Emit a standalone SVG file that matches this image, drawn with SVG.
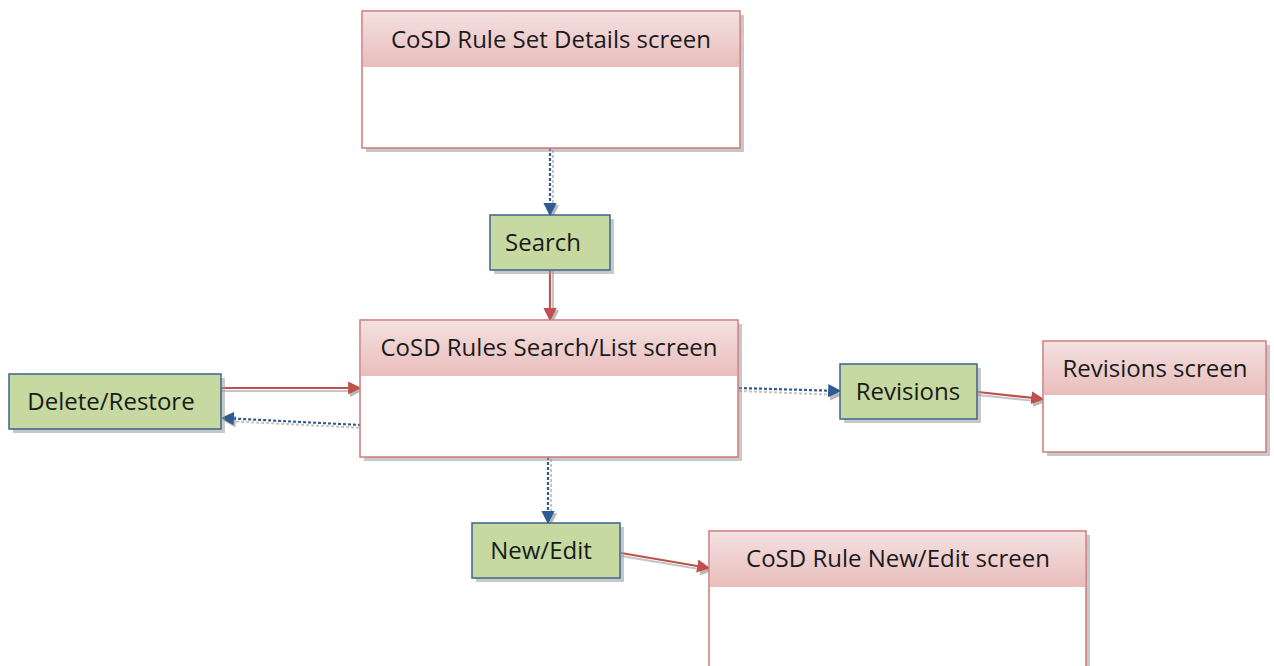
<svg xmlns="http://www.w3.org/2000/svg" width="1274" height="666" viewBox="0 0 1274 666">
<defs>
<linearGradient id="hdr" x1="0" y1="0" x2="0" y2="1">
<stop offset="0" stop-color="#f4e1e0"/>
<stop offset="1" stop-color="#e8bdbc"/>
</linearGradient>
<marker id="ab" viewBox="0 0 10 10" refX="9" refY="5" markerWidth="6" markerHeight="6" orient="auto" markerUnits="strokeWidth">
<path d="M0,0 L10,5 L0,10 z" fill="#2e5b93"/>
</marker>
<marker id="ar" viewBox="0 0 10 10" refX="9" refY="5" markerWidth="6" markerHeight="6" orient="auto" markerUnits="strokeWidth">
<path d="M0,0 L10,5 L0,10 z" fill="#c0504d"/>
</marker>
<marker id="ag" viewBox="0 0 10 10" refX="9" refY="5" markerWidth="6" markerHeight="6" orient="auto" markerUnits="strokeWidth">
<path d="M0,0 L10,5 L0,10 z" fill="#b8b8b8"/>
</marker>
</defs>
<style>
.shadow{fill:#9a9a9a;opacity:0.55}
.scr{fill:#ffffff;stroke:#d07a78;stroke-width:1.5}
.hd{fill:url(#hdr)}
.act{fill:#c5d9a0;stroke:#3b6391;stroke-width:1.5}
text{font-family:"Open Sans","Liberation Sans",sans-serif;fill:#1a1a1a;text-anchor:middle;font-size:24px}
.blue{stroke:#2e5b93;stroke-width:2.2;stroke-dasharray:3 2;fill:none;marker-end:url(#ab)}
.red{stroke:#c0504d;stroke-width:2.2;fill:none;marker-end:url(#ar)}
.csh{stroke:#c4c4c4;stroke-width:2;fill:none;marker-end:url(#ag)}
.cshd{stroke:#c4c4c4;stroke-width:2;stroke-dasharray:3 2;fill:none;marker-end:url(#ag)}
</style>
<rect width="1274" height="666" fill="#ffffff"/>

<g id="connectors">
<line class="cshd" x1="553" y1="150" x2="553" y2="216"/>
<line class="blue" x1="550" y1="148" x2="550" y2="215"/>
<line class="csh" x1="553" y1="271" x2="553" y2="321"/>
<line class="red" x1="550" y1="270" x2="550" y2="320"/>
<line class="csh" x1="221" y1="391" x2="361" y2="391"/>
<line class="red" x1="221" y1="388" x2="360" y2="388"/>
<line class="cshd" x1="364" y1="428" x2="225" y2="421"/>
<line class="blue" x1="361" y1="425" x2="222" y2="418"/>
<line class="cshd" x1="739" y1="391" x2="841" y2="395"/>
<line class="blue" x1="739" y1="388" x2="840" y2="391"/>
<line class="csh" x1="978" y1="395" x2="1044" y2="402"/>
<line class="red" x1="978" y1="392" x2="1043" y2="399"/>
<line class="cshd" x1="551" y1="459" x2="551" y2="524"/>
<line class="blue" x1="548" y1="457" x2="548" y2="523"/>
<line class="csh" x1="621" y1="556" x2="711" y2="571"/>
<line class="red" x1="621" y1="553" x2="709" y2="568"/>
</g>

<g id="rule-set-details">
<rect class="shadow" x="366" y="15" width="378" height="137"/>
<rect class="scr" x="362" y="11" width="378" height="137"/>
<rect class="hd" x="363" y="12" width="376" height="55"/>
<text x="551" y="48">CoSD Rule Set Details screen</text>
</g>

<g id="search">
<rect class="shadow" x="494" y="219" width="120" height="55"/>
<rect class="act" x="490" y="215" width="120" height="55"/>
<text x="543" y="251">Search</text>
</g>

<g id="rules-search-list">
<rect class="shadow" x="364" y="324" width="378" height="137"/>
<rect class="scr" x="360" y="320" width="378" height="137"/>
<rect class="hd" x="361" y="321" width="376" height="55"/>
<text x="549" y="356">CoSD Rules Search/List screen</text>
</g>

<g id="delete-restore">
<rect class="shadow" x="13" y="378" width="212" height="55"/>
<rect class="act" x="9" y="374" width="212" height="55"/>
<text x="111" y="410">Delete/Restore</text>
</g>

<g id="revisions">
<rect class="shadow" x="844" y="368" width="137" height="55"/>
<rect class="act" x="840" y="364" width="137" height="55"/>
<text x="908" y="400">Revisions</text>
</g>

<g id="revisions-screen">
<rect class="shadow" x="1047" y="345" width="223" height="111"/>
<rect class="scr" x="1043" y="341" width="223" height="111"/>
<rect class="hd" x="1044" y="342" width="221" height="53"/>
<text x="1155" y="377">Revisions screen</text>
</g>

<g id="new-edit">
<rect class="shadow" x="476" y="527" width="148" height="55"/>
<rect class="act" x="472" y="523" width="148" height="55"/>
<text x="541" y="559">New/Edit</text>
</g>

<g id="rule-new-edit">
<rect class="shadow" x="713" y="535" width="377" height="140"/>
<rect class="scr" x="709" y="531" width="377" height="140"/>
<rect class="hd" x="710" y="532" width="375" height="55"/>
<text x="898" y="567">CoSD Rule New/Edit screen</text>
</g>
</svg>
